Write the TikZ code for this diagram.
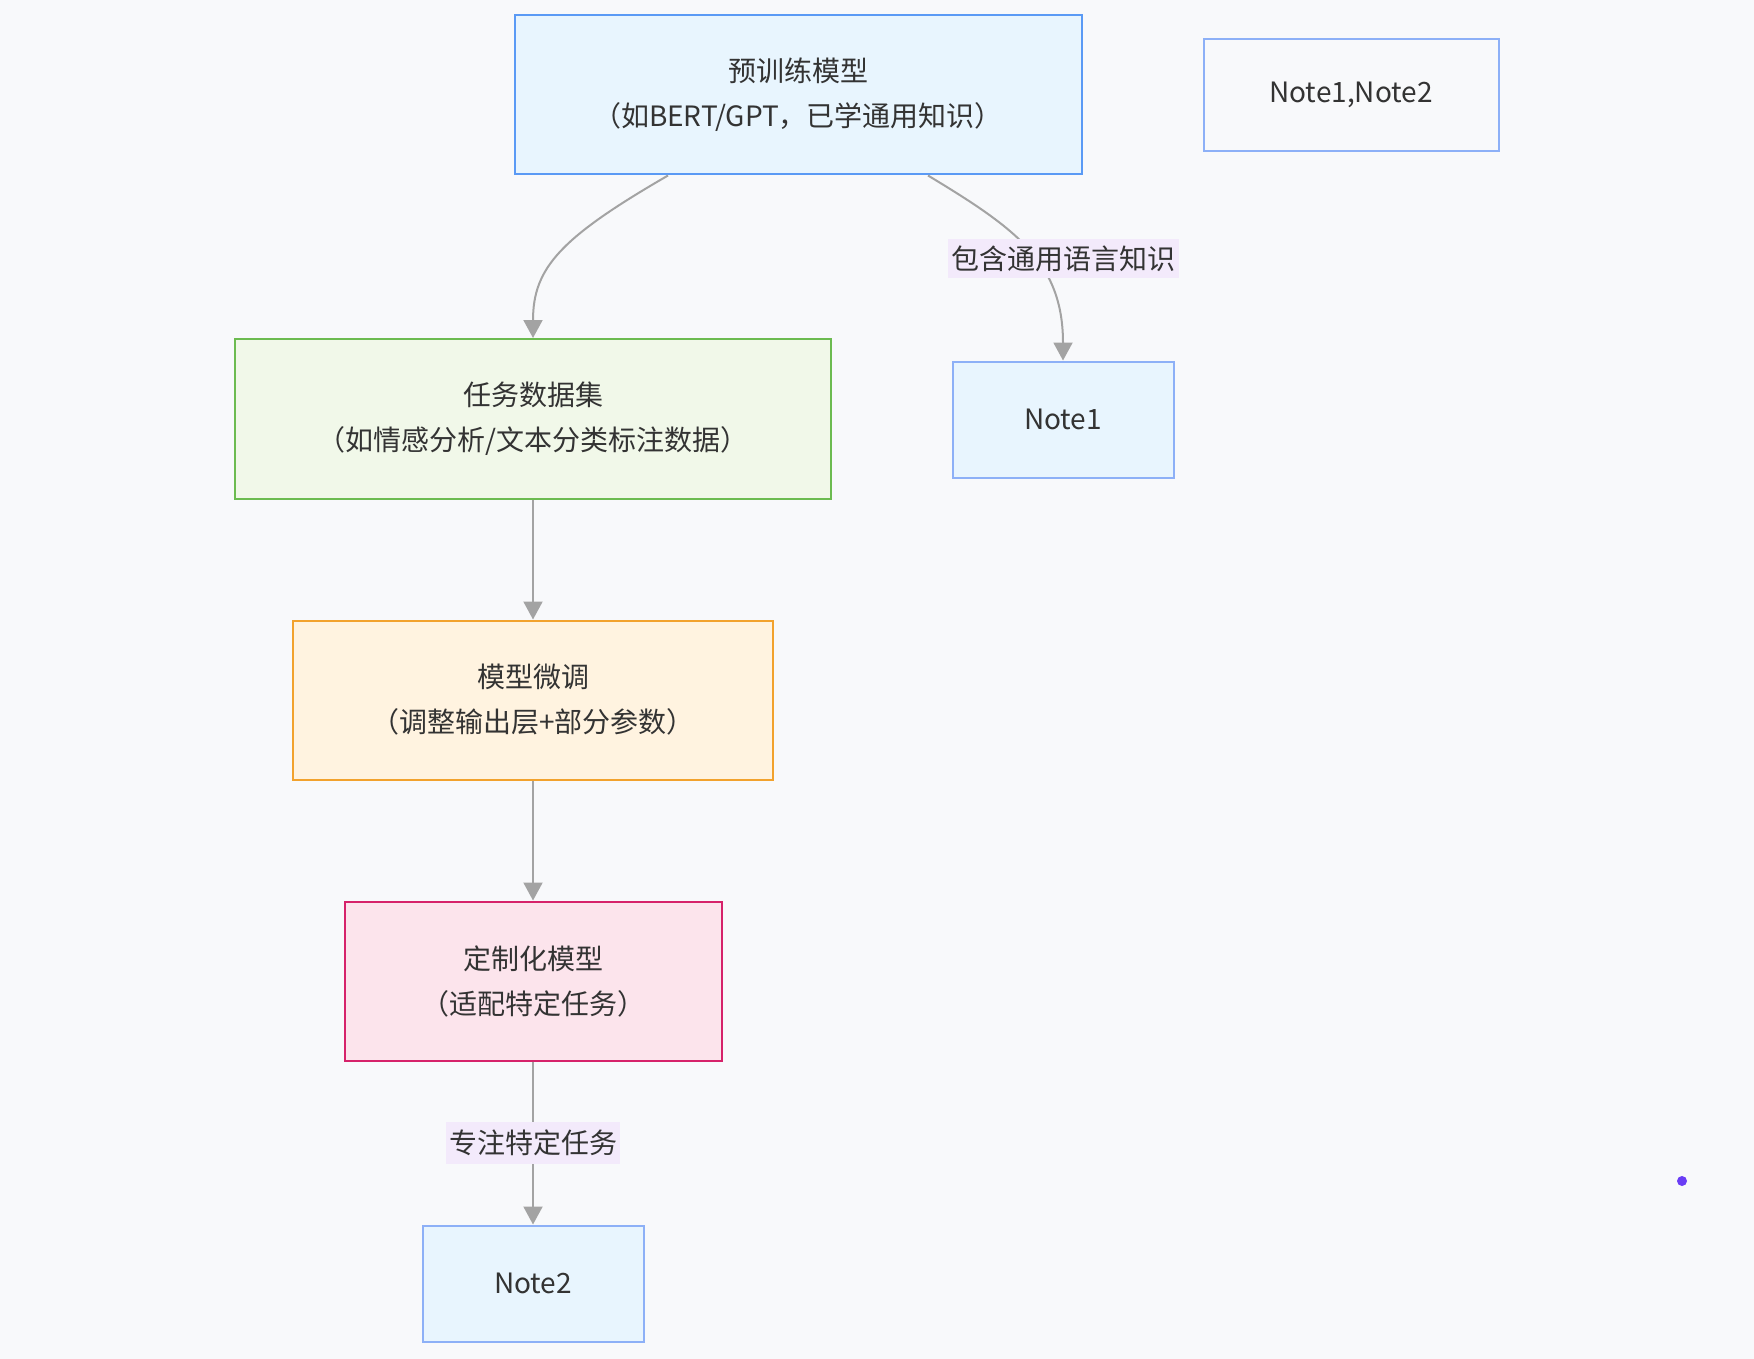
\documentclass[tikz,border=0pt]{standalone}
\usepackage{fontspec}
\setmainfont{Noto Sans CJK SC}
\usepackage{tikz}
\usetikzlibrary{positioning,
				arrows.meta,
				calc}

\definecolor{bgcol}{HTML}{F8F9FB}
\definecolor{txtcol}{HTML}{333333}
\definecolor{edgecol}{HTML}{A3A3A3}
\definecolor{bluefill}{HTML}{E8F5FE}
\definecolor{blueline}{HTML}{5A9AF5}
\definecolor{noteline}{HTML}{8DB0F7}
\definecolor{greenfill}{HTML}{F1F8E9}
\definecolor{greenline}{HTML}{6CBB50}
\definecolor{orangefill}{HTML}{FFF3E0}
\definecolor{orangeline}{HTML}{F2A22D}
\definecolor{pinkfill}{HTML}{FCE4EC}
\definecolor{pinkline}{HTML}{D6226A}
\definecolor{lblfill}{HTML}{F3EAFB}
\definecolor{dotcol}{HTML}{6A3DF5}

\begin{document}
\begin{tikzpicture}[x=1pt,y=-1pt,
		every node/.style={text=txtcol, font=\fontsize{28}{45}\selectfont},
		box/.style={draw, line width=2pt, align=center, inner sep=0pt},
		notebox/.style={box, draw=noteline, fill=bluefill, minimum width=221pt, minimum height=116pt},
		edgelabel/.style={fill=lblfill, inner sep=0pt, minimum height=38pt},
		flow/.style={draw=edgecol, line width=2pt, -{Triangle[width=19pt,length=18pt,fill=edgecol]}}
	]
		\fill[bgcol] (0,0) rectangle (1754,1359);
		\useasboundingbox (0,0) rectangle (1754,1359);

		\node[box, draw=blueline, fill=bluefill, minimum width=567pt, minimum height=159pt] (pre) at (798,95) {预训练模型\\（如BERT/GPT，已学通用知识）};
		\node[box, draw=noteline, minimum width=295pt, minimum height=112pt] (notes) at (1351,95) {Note1,Note2};
		\node[box, draw=greenline, fill=greenfill, minimum width=596pt, minimum height=160pt] (data) at (533,419) {任务数据集\\（如情感分析/文本分类标注数据）};
		\node[notebox] (note1) at (1063,419.5) {Note1};
		\node[box, draw=orangeline, fill=orangefill, minimum width=480pt, minimum height=159pt] (tune) at (533,700) {模型微调\\（调整输出层+部分参数）};
		\node[box, draw=pinkline, fill=pinkfill, minimum width=377pt, minimum height=159pt] (custom) at (533,981) {定制化模型\\（适配特定任务）};
		\node[notebox] (note2) at (533,1283.5) {Note2};

		\draw[flow] ($(pre.south)+(-130,0)$) .. controls (560,238) and (533,268) .. (data.north);
		\draw[flow] ($(pre.south)+(130,0)$) .. controls (1015,228) and (1063,262) .. (note1.north);
		\node[edgelabel, minimum width=231pt] (lbl1) at (1063,258.5) {包含通用语言知识};
		\draw[flow] (data) -- (tune);
		\draw[flow] (tune) -- (custom);
		\draw[flow] (custom) -- (note2);
		\node[edgelabel, minimum width=174pt, minimum height=42pt] (lbl2) at (533,1143) {专注特定任务};

		\fill[dotcol] (1682,1181) circle (5);
\end{tikzpicture}
\end{document}
